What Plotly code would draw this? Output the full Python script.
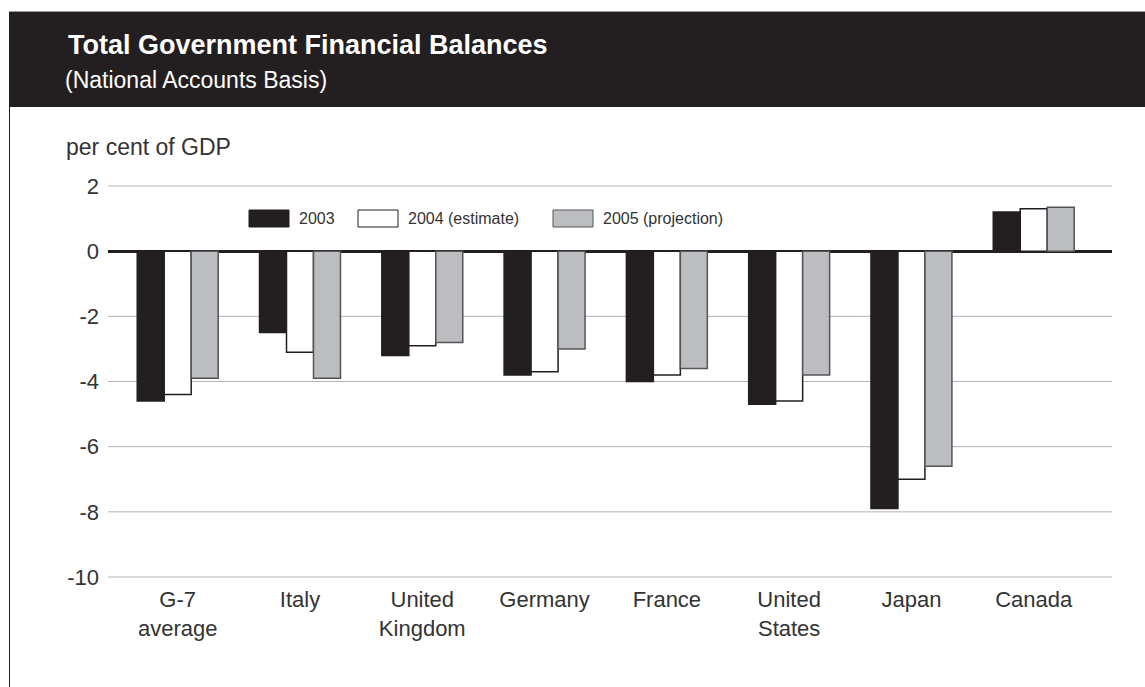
import plotly.graph_objects as go

# General government financial balances, per cent of GDP
countries = ["G-7 average", "Italy", "United Kingdom", "Germany", "France",
             "United States", "Japan", "Canada"]
country_labels = ["G-7<br>average", "Italy", "United<br>Kingdom", "Germany", "France",
                  "United<br>States", "Japan", "Canada"]
bal_2003 = [-4.6, -2.5, -3.2, -3.8, -4.0, -4.7, -7.9, 1.2]
bal_2004 = [-4.4, -3.1, -2.9, -3.7, -3.8, -4.6, -7.0, 1.3]
bal_2005 = [-3.9, -3.9, -2.8, -3.0, -3.6, -3.8, -6.6, 1.35]
series_names = ["2003", "2004 (estimate)", "2005 (projection)"]
y_ticks = [2, 0, -2, -4, -6, -8, -10]

# Styling
W, H = 1145, 687
PL, PR, PT, PB = 108, 1112, 185, 578  # plot area in pixels
DARK = "#231f20"
TEXT = "#333333"
GRID = "#b3b3b3"
FONT = "Liberation Sans"
fills = [DARK, "#ffffff", "#bcbdc0"]
edges = [DARK, DARK, "#555555"]


def px(x):
    return (x - PL) / (PR - PL)


def py(y):
    return (PB - y) / (PB - PT)


fig = go.Figure()
for name, vals, fc, ec in zip(series_names, [bal_2003, bal_2004, bal_2005], fills, edges):
    fig.add_trace(go.Bar(
        x=countries, y=vals, name=name,
        marker=dict(color=fc, line=dict(color=ec, width=1.5)),
        showlegend=False,
    ))

shapes = [
    # dark header band
    dict(type="rect", xref="paper", yref="paper", x0=px(9), x1=px(W + 5),
         y0=py(107), y1=py(12), fillcolor=DARK, line=dict(width=0), layer="above"),
    dict(type="line", xref="paper", yref="paper", x0=px(9), x1=px(W + 5),
         y0=py(11.5), y1=py(11.5), line=dict(color="#9a9a9a", width=1)),
    # left frame line
    dict(type="line", xref="paper", yref="paper", x0=px(9.5), x1=px(9.5),
         y0=py(107), y1=py(H + 5), line=dict(color=DARK, width=1)),
]

# horizontal grid lines at every tick, including the range ends
for v in y_ticks:
    if v != 0:
        shapes.append(dict(type="line", xref="paper", yref="y", x0=0, x1=1,
                           y0=v, y1=v, layer="below", line=dict(color=GRID, width=1)))

annotations = [
    dict(text="<b>Total Government Financial Balances</b>", xref="paper", yref="paper",
         x=px(66), y=py(45), xanchor="left", yanchor="middle", showarrow=False,
         font=dict(family=FONT, size=27, color="#ffffff")),
    dict(text="(National Accounts Basis)", xref="paper", yref="paper",
         x=px(63), y=py(80), xanchor="left", yanchor="middle", showarrow=False,
         font=dict(family=FONT, size=23, color="#ffffff")),
    dict(text="per cent of GDP", xref="paper", yref="paper",
         x=px(64), y=py(147), xanchor="left", yanchor="middle", showarrow=False,
         font=dict(family=FONT, size=23, color=TEXT)),
]

# legend: wide swatches followed by series names
legend_x = [249, 358, 553]
for lx, name, fc, ec in zip(legend_x, series_names, fills, edges):
    shapes.append(dict(type="rect", xref="paper", yref="paper",
                       x0=px(lx), x1=px(lx + 40), y0=py(227), y1=py(210),
                       fillcolor=fc, line=dict(color=ec, width=1)))
    annotations.append(dict(text=name, xref="paper", yref="paper",
                            x=px(lx + 48), y=py(218.5), xanchor="left", yanchor="middle",
                            showarrow=False, font=dict(family=FONT, size=16, color=TEXT)))

fig.update_layout(
    width=W, height=H,
    margin=dict(l=PL, r=W - PR, t=PT, b=H - PB, pad=0),
    paper_bgcolor="#ffffff", plot_bgcolor="#ffffff",
    barmode="group", bargap=0.338, bargroupgap=0,
    font=dict(family=FONT, size=22, color=TEXT),
    shapes=shapes, annotations=annotations,
    xaxis=dict(
        type="category", range=[-0.57, 7.64],
        tickvals=countries, ticktext=country_labels,
        showgrid=False, showline=False, ticks="", ticklabelstandoff=6,
        tickfont=dict(family=FONT, size=22, color=TEXT),
    ),
    yaxis=dict(
        range=[-10.03, 2.03], tickvals=y_ticks, ticktext=[str(v) for v in y_ticks],
        showgrid=False,
        zeroline=True, zerolinecolor=DARK, zerolinewidth=3,
        showline=False, ticks="", ticklabelstandoff=8,
        tickfont=dict(family=FONT, size=22, color=TEXT),
    ),
)

fig.write_html("out.html")
